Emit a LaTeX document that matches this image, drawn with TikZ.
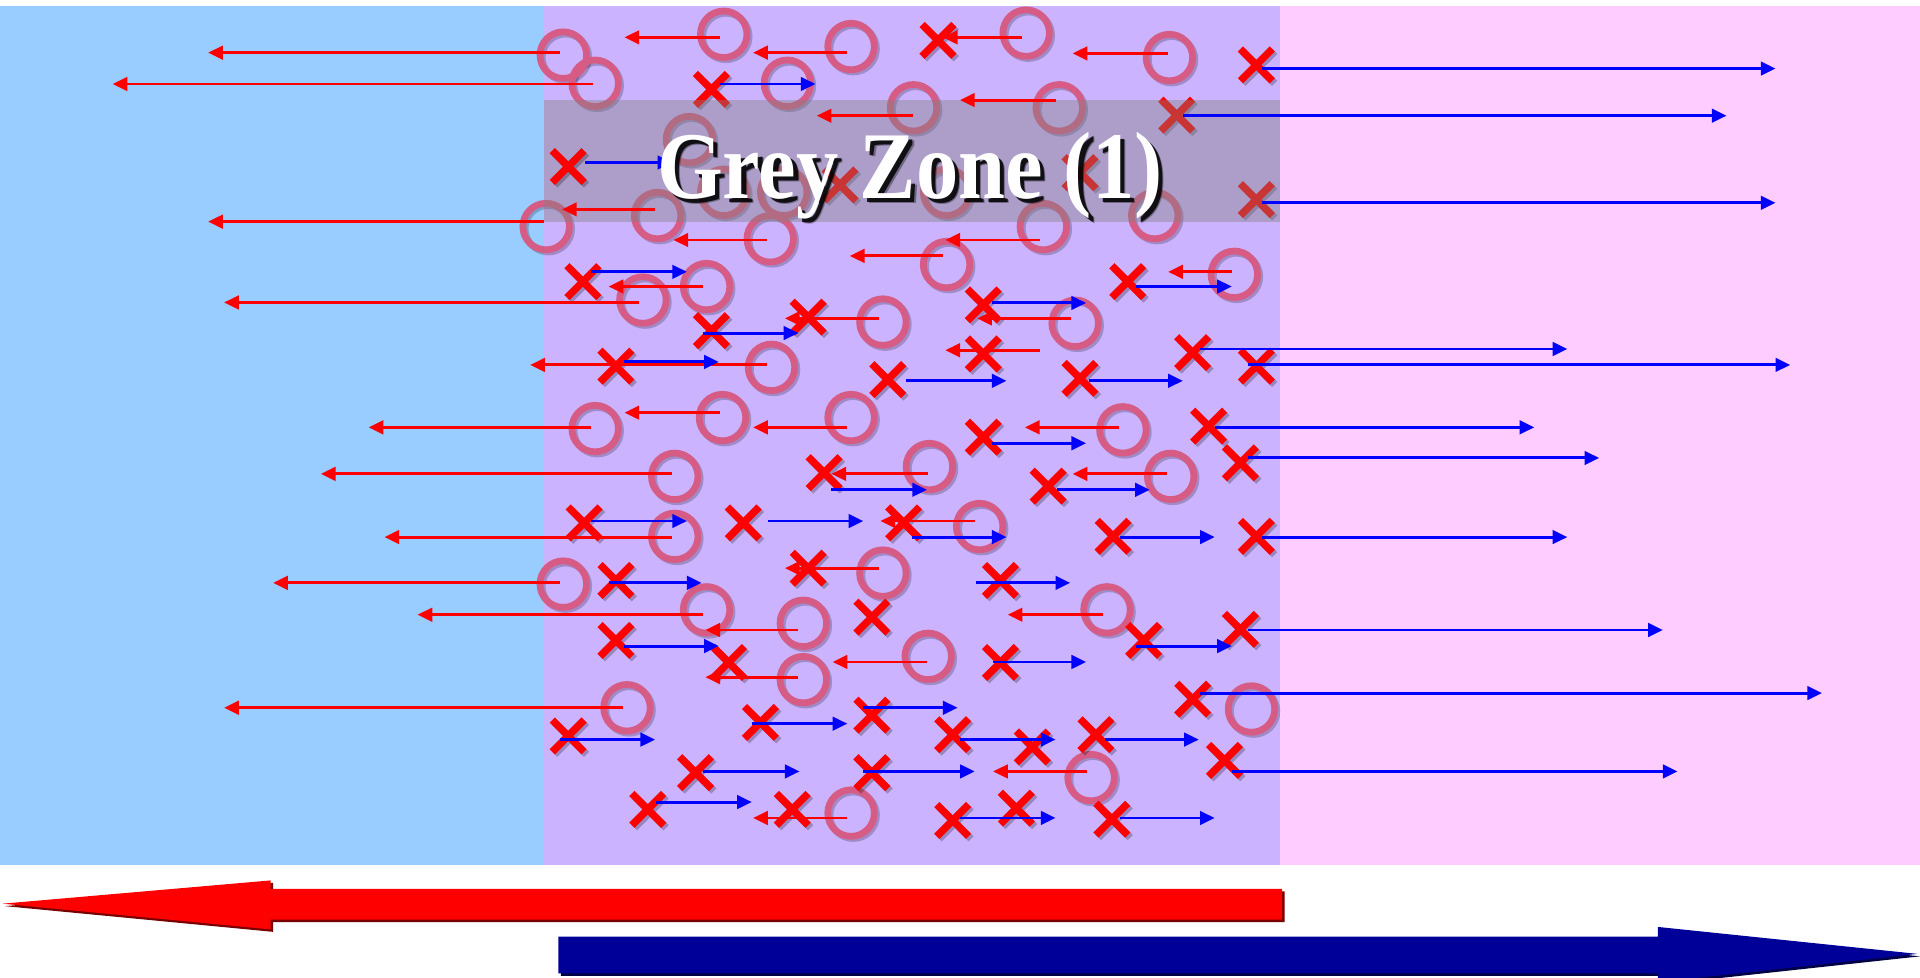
\documentclass[tikz,border=0pt]{standalone}
\usepackage{fontspec}
\setmainfont{Liberation Serif}
\usetikzlibrary{arrows.meta}
\definecolor{bgblue}{RGB}{153,204,255}
\definecolor{bgpurple}{RGB}{204,179,255}
\definecolor{bgpink}{RGB}{255,204,255}
\definecolor{ringcol}{RGB}{214,92,134}
\definecolor{navyarrow}{RGB}{0,0,153}
\definecolor{navyshadow}{RGB}{0,0,70}
\definecolor{redshadow}{RGB}{120,0,0}
\tikzset{
  ring/.style={draw=ringcol, line width=5.5pt},
  ringsh/.style={draw=black, opacity=0.22, line width=5.5pt},
  xmark/.style={draw=red, line width=6pt},
  xsh/.style={draw=black, opacity=0.25, line width=6pt},
  redarrow/.style={draw=red, line width=2.4pt, -{Triangle[length=12pt,width=11pt]}},
  bluearrow/.style={draw=blue, line width=2.4pt, -{Triangle[length=12pt,width=11pt]}},
  greyzone/.style={fill={rgb,255:red,128;green,128;blue,128}, fill opacity=0.42},
  zonetext/.style={anchor=base, inner sep=0pt, font=\fontsize{78}{90}\selectfont\bfseries}
}
\newcommand\xcross[3]{\draw[#1] (#2-13,#3-13) -- (#2+13,#3+13) (#2-13,#3+13) -- (#2+13,#3-13);}
\newcommand\zonelabel{\scalebox{0.885}[1]{Grey Zone (1)}}
\begin{document}
\begin{tikzpicture}[x=1pt,y=-1pt]
\useasboundingbox (0,0) rectangle (1568,798);
\fill[white] (0,0) rectangle (1568,798);
% background bands
\fill[bgblue] (0,4.9) rectangle (444.3,706.5);
\fill[bgpurple] (444.3,4.9) rectangle (1045.3,706.5);
\fill[bgpink] (1045.3,4.9) rectangle (1568,706.5);
% circles
\def\circlelist{591/28, 695/38, 838/27, 955/47, 460/45, 486/68, 643/68, 746/88, 865/88, 563/114, 591/157, 640/157, 773/157, 943/176, 852/185, 537/176, 446/185, 629/195, 773/216, 1008/224, 577/234, 525/245, 721/263, 878/264, 630/300, 486/350, 590/341, 695/341, 917/351, 551/389, 759/381, 956/389, 551/438, 800/430, 460/477, 721/468, 577/498, 656/509, 904/498, 758/536, 656/555, 512/578, 1022/579, 891/635, 695/664}
\def\crosslist{766/33, 1026/53, 581/73, 961/94, 686/151, 882/141, 1026/163, 921/230, 476/230, 803/249, 803/289, 660/259, 581/270, 503/299, 725/310, 974/288, 1026/299, 882/309, 803/357, 987/348, 1013/378, 673/386, 856/397, 477/427, 607/427, 738/427, 909/438, 1026/438, 660/464, 503/474, 817/474, 712/504, 503/523, 595/541, 934/523, 1013/514, 817/541, 974/571, 464/601, 621/590, 712/584, 778/600, 843/610, 895/600, 1000/621, 568/631, 712/631, 529/661, 647/661, 778/670, 830/660, 908/669}
\foreach \x/\y in \circlelist { \draw[ringsh] (\x+1.8,\y+1.8) circle[radius=19]; }
\foreach \x/\y in \circlelist { \draw[ring] (\x,\y) circle[radius=19]; }
\foreach \x/\y in \crosslist { \xcross{xsh}{\x+2}{\y+2} }
\foreach \x/\y in \crosslist { \xcross{xmark}{\x}{\y} }
% grey zone
\fill[greyzone] (444.3,81.7) rectangle (1045.3,181);
% cross above the grey zone
\xcross{xsh}{466}{138}
\xcross{xmark}{464}{136}
% red arrows (leftwards, from circles)
\foreach \a/\b/\y in {588/510/30.5, 692/615/43, 835/770/30.5, 954/876/43.6, 457/170/43, 484/92/68.6, 746/667/94.5, 862/784/81.7, 535/459/171, 444/170/181, 626/550/196, 849/772/196, 770/694/209, 1006/954/222, 574/497/234, 522/183/247, 718/641/260, 875/798/260, 849/772/286, 626/433/298, 483/301/349, 588/510/337, 692/615/349, 914/837/349, 549/262/387, 758/679/387, 953/876/387, 549/314/438.6, 796/719/425.5, 457/223/476, 718/641/464, 574/341/502, 652/576/514.5, 901/823/502, 757/680/540.6, 652/576/553, 509/183/578, 888/811/630, 692/615/668}
  { \draw[redarrow] (\a,\y) -- (\b,\y); }
% blue arrows (rightwards, from crosses)
\foreach \a/\b/\y in {1031/1450/56, 588/666/68.6, 966/1410/94.5, 478/549/132.7, 1031/1450/165.6, 928/1006/234, 483/561/222, 810/887/247.4, 574/652/272, 510/587/295.6, 740/822/311, 980/1280/285, 1019/1462/298, 889/966/311, 810/887/362, 992/1253/349, 1019/1306/374, 679/757/400, 863/939/400, 483/561/425.5, 627/705/425.5, 745/822/438.6, 915/992/438.6, 1031/1280/438.6, 497/573/476, 797/874/476, 510/587/527.6, 928/1006/527.6, 1019/1358/514.5, 811/887/540.6, 980/1488/566, 457/535/604, 614/692/591, 705/782/578, 784/862/604, 902/979/604, 1006/1370/630, 574/653/630, 705/796/630, 536/614/655, 784/862/668, 915/992/668}
  { \draw[bluearrow] (\a,\y) -- (\b,\y); }
% title with soft shadow
\node[zonetext, text=black, opacity=0.35] (tsh2) at (747.5,166.5) {\zonelabel};
\node[zonetext, text=black, opacity=0.85] (tsh) at (746.5,165) {\zonelabel};
\node[zonetext, text=white] (title) at (743,162) {\zonelabel};
% big red arrow (left)
\fill[redshadow] (4,740) -- (223,721) -- (223,728) -- (1049,728) -- (1049,753) -- (223,753) -- (223,761) -- cycle;
\fill[red] (2,738) -- (221,719) -- (221,726) -- (1047,726) -- (1047,751) -- (221,751) -- (221,759) -- cycle;
% big blue arrow (right)
\fill[navyshadow] (458,767) -- (1356,767) -- (1356,759) -- (1568,781) -- (1356,804) -- (1356,797) -- (458,797) -- cycle;
\fill[navyarrow] (456,765) -- (1354,765) -- (1354,757) -- (1566,779) -- (1354,802) -- (1354,795) -- (456,795) -- cycle;
\end{tikzpicture}
\end{document}
